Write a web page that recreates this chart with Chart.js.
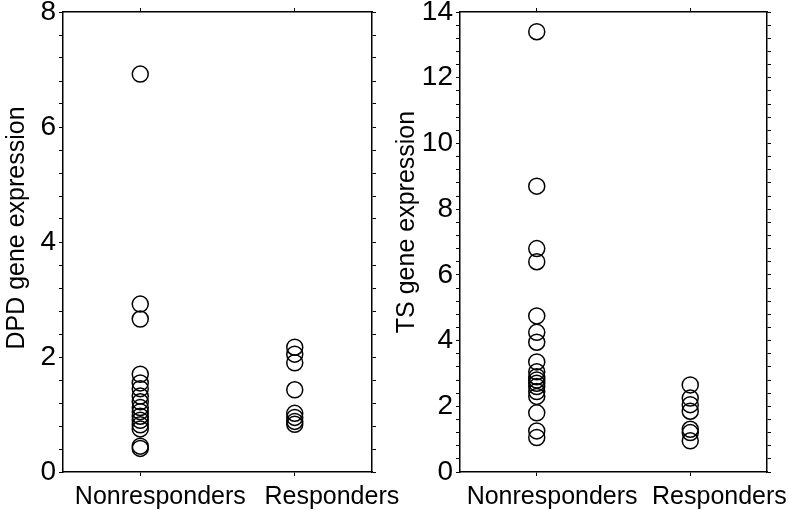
<!DOCTYPE html>
<html>
<head>
<meta charset="utf-8">
<script src="https://cdn.jsdelivr.net/npm/chart.js@4.4.0/dist/chart.umd.min.js"></script>
<style>
  html, body { margin: 0; padding: 0; background: #fff; }
  .panel { position: absolute; top: 0; height: 510px; }
  #p1 { left: 0; width: 410px; }
  #p2 { left: 390px; width: 399px; }
</style>
</head>
<body>
<div class="panel" id="p1"><canvas id="c1"></canvas></div>
<div class="panel" id="p2"><canvas id="c2"></canvas></div>
<script>
// Categories
const categories = ["Nonresponders", "Responders"];

// DPD gene expression (left panel)
const dpdNonresponders = [6.92, 2.92, 2.66, 1.70, 1.55, 1.45, 1.32, 1.22, 1.12, 1.05, 0.97, 0.90, 0.82, 0.75, 0.45, 0.41];
const dpdResponders = [2.17, 2.05, 1.90, 1.43, 1.02, 0.95, 0.88, 0.83];

// TS gene expression (right panel)
const tsNonresponders = [13.4, 8.7, 6.8, 6.4, 4.75, 4.25, 3.95, 3.35, 3.05, 2.9, 2.8, 2.7, 2.6, 2.45, 2.3, 1.8, 1.25, 1.05];
const tsResponders = [2.65, 2.25, 2.05, 1.85, 1.3, 1.2, 0.95];

// Tick labels
const dpdTickLabels = [0, 2, 4, 6, 8];
const tsTickLabels = [0, 2, 4, 6, 8, 10, 12, 14];
const minorStep = 0.4;

const FONT = "'Liberation Sans', Arial, Helvetica, sans-serif";

function buildTicks(labels) {
  const max = labels[labels.length - 1];
  const out = [];
  const n = Math.round(max / minorStep);
  for (let i = 0; i <= n; i++) out.push({ value: Math.round(i * minorStep * 1000) / 1000 });
  return out;
}

const yTitlePlugin = {
  id: 'yTitle',
  afterDraw(chart, args, opts) {
    const ctx = chart.ctx;
    const area = chart.chartArea;
    ctx.save();
    ctx.fillStyle = '#000';
    ctx.font = '25px ' + FONT;
    ctx.textAlign = 'center';
    ctx.textBaseline = 'middle';
    ctx.translate(opts.x, (area.top + area.bottom) / 2 + opts.dy);
    ctx.rotate(-Math.PI / 2);
    ctx.fillText(opts.text, 0, 0);
    ctx.restore();
  }
};

function makeChart(id, title, nonresp, resp, tickLabels, cfg) {
  const ymax = tickLabels[tickLabels.length - 1];
  const pointStyle = {
    pointRadius: 8,
    pointHoverRadius: 8,
    pointBorderWidth: 1.5,
    borderColor: '#000',
    backgroundColor: 'rgba(0,0,0,0)',
    pointBackgroundColor: 'rgba(0,0,0,0)',
    pointBorderColor: '#000',
    showLine: false
  };
  const tickGrid = { drawOnChartArea: false, drawTicks: true, tickLength: 4, color: '#000', lineWidth: 1 };
  const border = { display: true, color: '#000', width: 1.5 };
  return new Chart(document.getElementById(id), {
    type: 'scatter',
    data: {
      datasets: [
        Object.assign({ label: categories[0], data: nonresp.map(v => ({ x: 0, y: v })) }, pointStyle),
        Object.assign({ label: categories[1], data: resp.map(v => ({ x: 1, y: v })) }, pointStyle)
      ]
    },
    plugins: [yTitlePlugin],
    options: {
      responsive: true,
      maintainAspectRatio: false,
      animation: false,
      layout: { padding: { top: 12, right: cfg.rightPad, bottom: 0, left: 0 } },
      plugins: {
        legend: { display: false }, tooltip: { enabled: false },
        yTitle: { text: title, x: cfg.titleX, dy: cfg.titleDy }
      },
      scales: {
        x: {
          type: 'linear', position: 'bottom', min: -0.5, max: 1.5, weight: 0,
          afterBuildTicks: s => { s.ticks = [{ value: 0 }, { value: 1 }]; },
          afterFit: s => { s.height = 4; s.paddingLeft = 0; s.paddingRight = 0; },
          ticks: { display: false },
          grid: tickGrid, border: border
        },
        xLab: {
          type: 'linear', position: 'bottom', min: -0.5, max: 1.5, weight: 1,
          afterBuildTicks: s => { s.ticks = cfg.labelShift.map((d, i) => ({ value: i + d })); },
          afterFit: s => { s.height = 34; s.paddingLeft = 0; s.paddingRight = 0; },
          ticks: {
            autoSkip: false, maxRotation: 0, padding: 6, color: '#000',
            font: { family: FONT, size: 25 },
            callback: v => categories[Math.round(v)] ?? ''
          },
          grid: { display: false, drawTicks: false }, border: { display: false }
        },
        xTop: {
          type: 'linear', position: 'top', min: -0.5, max: 1.5,
          afterBuildTicks: s => { s.ticks = [{ value: 0 }, { value: 1 }]; },
          afterFit: s => { s.height = 0; s.paddingLeft = 0; s.paddingRight = 0; },
          ticks: { display: false },
          grid: tickGrid, border: border
        },
        y: {
          type: 'linear', position: 'left', min: 0, max: ymax,
          afterBuildTicks: s => { s.ticks = buildTicks(tickLabels); },
          afterFit: s => { s.width = cfg.axisWidth; s.paddingTop = 0; s.paddingBottom = 0; },
          ticks: {
            autoSkip: false, padding: 3, color: '#000',
            font: { family: FONT, size: 28, lineHeight: 0.6 },
            callback: v => tickLabels.some(t => Math.abs(t - v) < 1e-6) ? String(Math.round(v)) : ''
          },
          title: { display: false },
          grid: tickGrid, border: border
        },
        yRight: {
          type: 'linear', position: 'right', min: 0, max: ymax,
          afterBuildTicks: s => { s.ticks = buildTicks(tickLabels); },
          afterFit: s => { s.width = 0; s.paddingTop = 0; s.paddingBottom = 0; },
          ticks: { display: false },
          grid: tickGrid, border: border
        }
      }
    }
  });
}

makeChart('c1', 'DPD gene expression', dpdNonresponders, dpdResponders, dpdTickLabels,
  { axisWidth: 63, rightPad: 38, labelShift: [0.13, 0.24], titleX: 17, titleDy: -14 });
makeChart('c2', 'TS gene expression', tsNonresponders, tsResponders, tsTickLabels,
  { axisWidth: 70, rightPad: 22, labelShift: [0.10, 0.19], titleX: 17, titleDy: -20 });
</script>
</body>
</html>
